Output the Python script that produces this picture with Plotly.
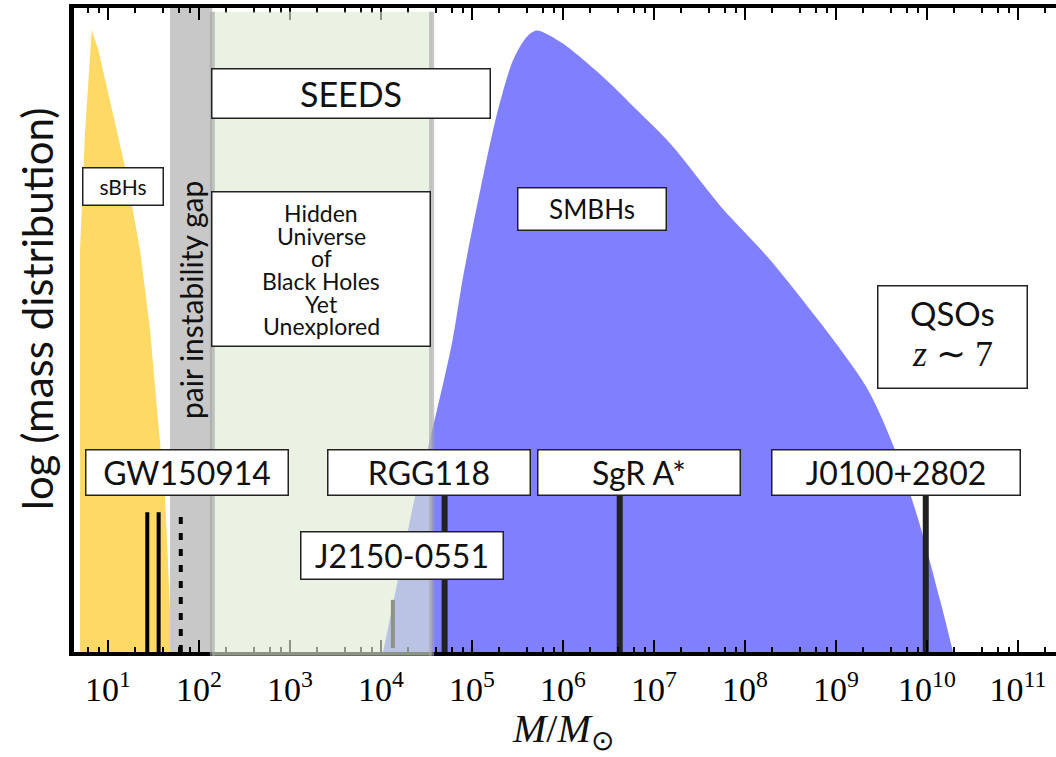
import plotly.graph_objects as go

# ---------------- data ----------------
# stellar-mass BH distribution (log10 M, relative level 0..1)
sbh_logm = [0.692, 0.692, 0.747, 0.821, 0.893, 1.019, 1.187, 1.352, 1.462, 1.549, 1.626, 1.703]
sbh_level = [0.0, 0.624, 0.806, 0.966, 0.935, 0.857, 0.753, 0.624, 0.500, 0.360, 0.241, 0.0]

# supermassive BH distribution
smbh_logm = [4.022, 4.231, 4.374, 4.516, 4.780, 4.901, 5.121, 5.286, 5.451, 5.601, 5.711,
             5.986, 6.440, 6.810, 7.176, 7.758, 8.275, 9.319, 9.648, 9.923, 10.143, 10.286]
smbh_level = [0.0, 0.143, 0.241, 0.317, 0.480, 0.582, 0.738, 0.842, 0.919, 0.955, 0.965,
              0.946, 0.893, 0.842, 0.790, 0.688, 0.609, 0.415, 0.314, 0.197, 0.081, 0.0]

# mass ranges (Msun)
pair_gap = [48, 140]
seeds_range = [140, 3.6e4]

# individual objects (Msun)
gw150914_progenitors = [27, 36]
gw150914_remnant = 63
j2150_mass = 1.35e4
known_names = ["RGG118", "SgR A*", "J0100+2802"]
known_masses = [5.0e4, 4.2e6, 9.7e9]

tick_exponents = list(range(1, 12))
tick_values = [10 ** e for e in tick_exponents]
tick_labels = ["10<sup>%d</sup>" % e for e in tick_exponents]
minor_values = [k * 10 ** e for e in range(0, 12) for k in (2, 4, 6, 8)]

# ---------------- figure ----------------
W, H = 1056, 757
ML, MR, MT, MB = 74, 0, 8, 105
PW, PH = W - ML - MR, H - MT - MB


def px(x):
    return (x - ML) / PW


def py(y):
    return (MT + PH - y) / PH


fig = go.Figure()

# sBH distribution
fig.add_trace(go.Scatter(
    x=[10 ** v for v in sbh_logm], y=sbh_level, mode="lines",
    fill="toself", fillcolor="#FFD966", line=dict(color="#FFD966", width=0),
    hoverinfo="skip"))

# pair-instability gap band
fig.add_trace(go.Scatter(
    x=[pair_gap[0], pair_gap[1], pair_gap[1], pair_gap[0], pair_gap[0]],
    y=[0, 0, 1, 1, 0], mode="lines", fill="toself",
    fillcolor="#C8C8C8", line=dict(color="#C8C8C8", width=0), hoverinfo="skip"))

# SMBH distribution
fig.add_trace(go.Scatter(
    x=[10 ** v for v in smbh_logm], y=smbh_level, mode="lines",
    fill="toself", fillcolor="#8080FF",
    line=dict(color="#8080FF", width=0, shape="spline", smoothing=0.8),
    hoverinfo="skip"))

# GW150914 progenitors (solid) and remnant (dashed)
gx, gy = [], []
for m in gw150914_progenitors:
    gx += [m, m, None]
    gy += [0, 0.217, None]
fig.add_trace(go.Scatter(x=gx, y=gy, mode="lines",
                         line=dict(color="black", width=4), hoverinfo="skip"))
fig.add_trace(go.Scatter(x=[gw150914_remnant, gw150914_remnant], y=[0, 0.217], mode="lines",
                         line=dict(color="black", width=4, dash="7px,9px"), hoverinfo="skip"))

# J2150-0551
fig.add_trace(go.Scatter(x=[j2150_mass, j2150_mass], y=[0.006, 0.081], mode="lines",
                         line=dict(color="black", width=4), hoverinfo="skip"))

# known objects
kx, ky = [], []
for m in known_masses:
    kx += [m, m, None]
    ky += [0, 0.25, None]
fig.add_trace(go.Scatter(x=kx, y=ky, mode="lines",
                         line=dict(color="#222222", width=6), hoverinfo="skip"))

# SEEDS band (semi-transparent, drawn over everything)
fig.add_shape(type="rect", xref="x", yref="paper",
              x0=seeds_range[0], x1=seeds_range[1], y0=-0.006, y1=0.994,
              fillcolor="rgb(222,234,212)", line=dict(width=0),
              opacity=0.63, layer="above")
for xe in seeds_range:
    fig.add_shape(type="line", xref="x", yref="paper", x0=xe, x1=xe, y0=-0.006, y1=0.994,
                  line=dict(color="rgb(165,165,165)", width=5), opacity=0.63, layer="above")

LBL = "Lato"
TXT = "#111111"


def box(text, cx, cy, w, h, size, family=LBL):
    fig.add_annotation(x=px(cx), y=py(cy), xref="paper", yref="paper",
                       text=text, showarrow=False, xanchor="center", yanchor="middle",
                       width=w, height=h, bgcolor="white", bordercolor="#222222",
                       borderwidth=1.5, borderpad=0,
                       font=dict(family=family, size=size, color=TXT))


def label(text, cx, cy, size, family=LBL, angle=0):
    fig.add_annotation(x=px(cx), y=py(cy), xref="paper", yref="paper",
                       text=text, showarrow=False, xanchor="center", yanchor="middle",
                       textangle=angle, font=dict(family=family, size=size, color=TXT))


box("sBHs", 122.5, 186.5, 79, 36, 21)
box("SEEDS", 351, 93.5, 277, 48, 34)
box(" ", 321, 269, 217, 153, 10)
for txt, yy in zip(["Hidden", "Universe", "of", "Black Holes", "Yet", "Unexplored"],
                   [213, 236, 258, 281, 304, 326]):
    label(txt, 321, yy, 23)
box("SMBHs", 592, 208.5, 147, 41, 26)
box(" ", 952.5, 337, 148, 101, 10)
label("QSOs", 952.5, 313, 33)
label("<i>z</i> ∼ 7", 952.5, 354, 36, family="Liberation Serif")

box("GW150914", 187, 472.5, 201, 44, 32)
for name, cx in zip(known_names, [429, 639, 896]):
    w = 247 if name == "J0100+2802" else 201
    box(name, cx, 472.5, w, 44, 32)
box("J2150-0551", 402, 555.5, 201, 46, 32)

label("pair instability gap", 191, 300, 30, angle=-90)

# axis titles
label("log (mass distribution)", 37, 309, 42, angle=-90)
label("<i>M</i>/<i>M</i><sub>⊙</sub>", 563, 731, 40, family="Liberation Serif")

fig.update_xaxes(type="log", range=[0.626, 11.418],
                 tickvals=tick_values, ticktext=tick_labels,
                 tickfont=dict(family="Liberation Serif", size=34, color="black"),
                 ticks="inside", ticklen=12, tickwidth=2, tickcolor="black",
                 minor=dict(tickvals=minor_values, ticks="inside", ticklen=5,
                            tickwidth=1.5, tickcolor="black"),
                 showline=True, linewidth=4, linecolor="black", mirror="ticks",
                 showgrid=False, zeroline=False, ticklabelstandoff=4)
fig.update_yaxes(range=[0, 1], showline=True, linewidth=5, linecolor="black",
                 showticklabels=False, ticks="", showgrid=False, zeroline=False)

fig.update_layout(width=W, height=H, margin=dict(l=ML, r=MR, t=MT, b=MB, autoexpand=False),
                  paper_bgcolor="white", plot_bgcolor="white", showlegend=False)

fig.write_html("out.html")
